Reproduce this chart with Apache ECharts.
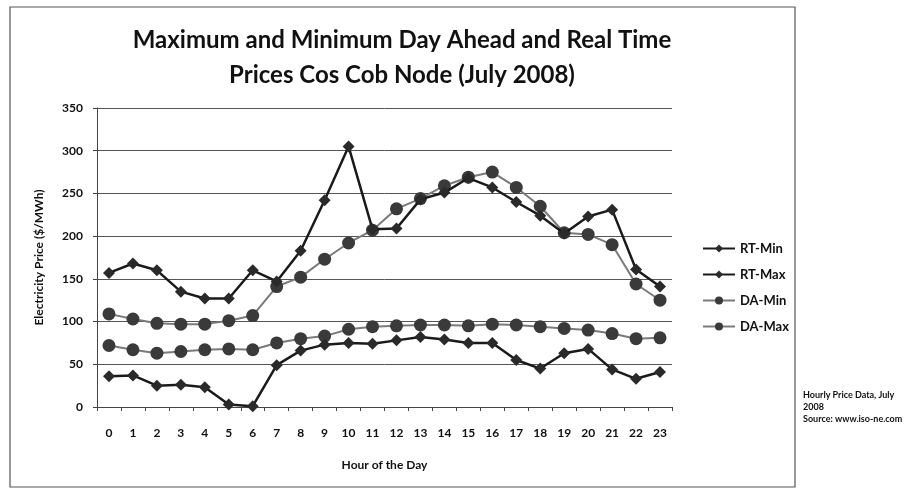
<!DOCTYPE html>
<html>
<head>
<meta charset="utf-8">
<script src="https://cdn.jsdelivr.net/npm/echarts@6/dist/echarts.min.js"></script>
<style>
  html, body { margin: 0; padding: 0; background: #fff; }
  #main { width: 911px; height: 489px; }
</style>
</head>
<body>
<div id="main"></div>
<script>
// hours of the day
var hours = ['0','1','2','3','4','5','6','7','8','9','10','11','12','13','14','15','16','17','18','19','20','21','22','23'];

// prices in $/MWh
var rtMin = [36, 37, 25, 26, 23, 3, 1, 49, 66, 73, 75, 74, 78, 82, 79, 75, 75, 55, 45, 63, 68, 44, 33, 41];
var rtMax = [157, 168, 160, 135, 127, 127, 160, 147, 183, 242, 305, 208, 209, 243, 251, 268, 257, 240, 224, 203, 223, 231, 161, 141];
var daMin = [72, 67, 63, 65, 67, 68, 67, 75, 80, 83, 91, 94, 95, 96, 96, 95, 97, 96, 94, 92, 90, 86, 80, 81];
var daMax = [109, 103, 98, 97, 97, 101, 107, 141, 152, 173, 192, 207, 232, 244, 259, 269, 275, 257, 235, 204, 202, 190, 144, 125];

var yTicks = [0, 50, 100, 150, 200, 250, 300, 350];

var font = 'Lato';
var chart = echarts.init(document.getElementById('main'), null, { renderer: 'canvas' });

function rtSeries(name, data) {
  return {
    name: name,
    type: 'line',
    data: data,
    symbol: 'diamond',
    symbolSize: 12,
    itemStyle: { color: '#2a2a2a' },
    lineStyle: { color: '#1a1a1a', width: 2.5 },
    z: 3
  };
}
function daSeries(name, data) {
  return {
    name: name,
    type: 'line',
    data: data,
    symbol: 'circle',
    symbolSize: 13,
    itemStyle: { color: '#3a3a3a' },
    lineStyle: { color: '#7a7a7a', width: 2 },
    z: 2
  };
}

var option = {
  backgroundColor: '#fff',
  animation: false,
  textStyle: { fontFamily: font },
  title: {
    text: 'Maximum and Minimum Day Ahead and Real Time\nPrices Cos Cob Node (July 2008)',
    left: 397,
    textAlign: 'center',
    top: 18,
    textStyle: {
      fontFamily: font,
      fontSize: 24,
      fontWeight: 'bold',
      color: '#111',
      lineHeight: 35
    }
  },
  grid: { left: 97, right: 239, top: 108, bottom: 82 },
  legend: {
    orient: 'vertical',
    left: 697,
    top: 237,
    itemWidth: 32,
    itemHeight: 10,
    itemGap: 13,
    textStyle: { fontFamily: font, fontSize: 13, fontWeight: 'bold', color: '#111' },
    data: ['RT-Min', 'RT-Max', 'DA-Min', 'DA-Max']
  },
  xAxis: {
    type: 'category',
    data: hours,
    name: 'Hour of the Day',
    nameLocation: 'middle',
    nameGap: 52,
    nameTextStyle: { fontFamily: font, fontSize: 12, fontWeight: 'bold', color: '#111' },
    axisLine: { lineStyle: { color: '#444', width: 1 } },
    axisTick: { show: true, length: 4, lineStyle: { color: '#444' } },
    axisLabel: { margin: 20, fontFamily: font, fontSize: 12, fontWeight: 'bold', color: '#111' },
    splitLine: { show: false }
  },
  yAxis: {
    type: 'value',
    min: yTicks[0],
    max: yTicks[yTicks.length - 1],
    interval: 50,
    name: 'Electricity Price ($/MWh)',
    nameLocation: 'middle',
    nameGap: 52,
    nameRotate: 90,
    nameTextStyle: { fontFamily: font, fontSize: 12, fontWeight: 'bold', color: '#111' },
    axisLine: { show: true, lineStyle: { color: '#444', width: 1 } },
    axisTick: { show: true, length: 4, lineStyle: { color: '#444' } },
    axisLabel: { margin: 14, fontFamily: font, fontSize: 12, fontWeight: 'bold', color: '#111' },
    splitLine: { show: true, lineStyle: { color: '#555', width: 1 } }
  },
  graphic: [
    {
      type: 'rect',
      shape: { x: 10, y: 7, width: 785, height: 480 },
      style: { fill: 'none', stroke: '#555', lineWidth: 1.2 },
      silent: true
    },
    {
      type: 'text',
      left: 803,
      top: 389,
      style: {
        text: 'Hourly Price Data, July\n2008\nSource: www.iso-ne.com',
        font: 'bold 9px ' + font,
        lineHeight: 12,
        fill: '#111'
      }
    }
  ],
  series: [
    rtSeries('RT-Min', rtMin),
    rtSeries('RT-Max', rtMax),
    daSeries('DA-Min', daMin),
    daSeries('DA-Max', daMax)
  ]
};

chart.setOption(option);
</script>
</body>
</html>
